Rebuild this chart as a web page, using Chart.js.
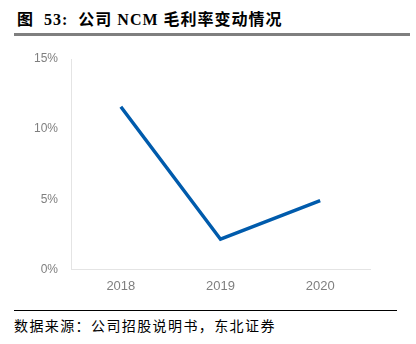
<!DOCTYPE html>
<html>
  <head>
    <meta charset="utf-8" />
    <title></title>
    <style>
      body { margin: 0; width: 416px; height: 344px; background: #fff; position: relative; overflow: hidden; }
      #title { position: absolute; left: 17px; top: 6px; font: bold 16px "Liberation Serif", "Noto Sans CJK SC"; letter-spacing: 1px; color: #000; white-space: nowrap; }
      #rule { position: absolute; left: 14px; top: 33px; width: 396px; height: 3px; background: #7f7f7f; }
      #wrap { position: absolute; left: 0; top: 40px; width: 416px; height: 255px; }
      #foot { position: absolute; left: 14px; top: 310px; width: 383px; height: 1px; background: #000; }
      #src { position: absolute; left: 14px; top: 315px; font: 14px "Noto Sans CJK SC"; letter-spacing: 1.4px; color: #000; white-space: nowrap; }
    </style>
  </head>
  <body>
    <div id="title">图&nbsp;&nbsp;53:&nbsp;&nbsp;公司 NCM 毛利率变动情况</div>
    <div id="rule"></div>
    <div id="wrap"><canvas id="chart"></canvas></div>
    <div id="foot"></div>
    <div id="src">数据来源：公司招股说明书，东北证券</div>
    <script src="https://cdn.jsdelivr.net/npm/chart.js@4.4.0/dist/chart.umd.min.js"></script>
    <script>
      const years = ["2018", "2019", "2020"];
      const margin = [11.6, 2.15, 4.9];
      const yTicks = [0, 5, 10, 15];

      new Chart("chart", {
        type: "line",
        data: {
          labels: years,
          datasets: [
            {
              data: margin,
              borderColor: "#005bac",
              borderWidth: 3.5,
              pointRadius: 0,
              tension: 0,
            },
          ],
        },
        options: {
          responsive: true,
          maintainAspectRatio: false,
          animation: false,
          layout: { padding: { left: 29, right: 46, top: 19, bottom: 0 } },
          plugins: { legend: { display: false }, tooltip: { enabled: false } },
          scales: {
            x: {
              offset: true,
              grid: { display: false },
              border: { color: "#e4e4e4" },
              ticks: { color: "#7f7f7f", font: { family: "Liberation Sans", size: 13 }, padding: 1 },
            },
            y: {
              min: 0,
              max: 15,
              afterBuildTicks: (s) => { s.ticks = yTicks.map((v) => ({ value: v })); },
              grid: { display: false },
              border: { color: "#e4e4e4" },
              ticks: { color: "#7f7f7f", font: { family: "Liberation Sans", size: 12 }, padding: 5, callback: (v) => v + "%" },
            },
          },
        },
      });
    </script>
  </body>
</html>
